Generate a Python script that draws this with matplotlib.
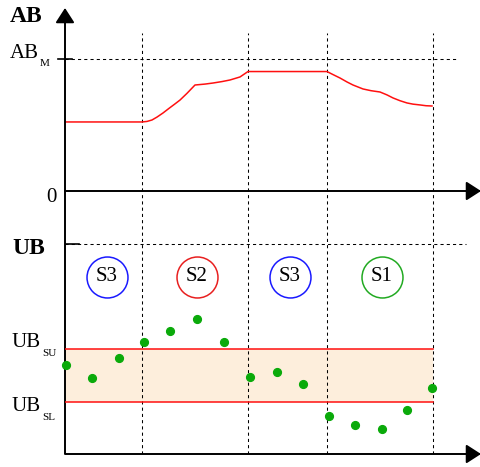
import matplotlib
matplotlib.use('Agg')
import matplotlib.pyplot as plt

plt.rcParams['font.family'] = ['Liberation Serif', 'DejaVu Serif']

# 数据 (x 为时间轴, 相对于纵轴的位置)
stage_edges = [77, 183, 262, 368]          # 虚线分隔
ab_x = [0, 77, 82, 87, 92, 98, 104, 110, 115, 122, 130, 140, 148, 157, 165, 175, 183,
        262, 268, 275, 282, 288, 298, 306, 315, 322, 328, 335, 342, 348, 355, 361, 367]
ab_y = [0.523, 0.523, 0.527, 0.538, 0.56, 0.591, 0.626, 0.66, 0.689, 0.74, 0.803,
        0.81, 0.818, 0.829, 0.841, 0.864, 0.905,
        0.905, 0.882, 0.856, 0.826, 0.803, 0.773, 0.76, 0.75, 0.728, 0.705, 0.684,
        0.667, 0.658, 0.652, 0.646, 0.644]
ab_max = 1.0

ub_x = [1, 27, 54, 79, 105, 132, 159, 185, 212, 238, 264, 290, 317, 342, 367]
ub_y = [4.22, 3.62, 4.57, 5.32, 5.84, 6.41, 5.33, 3.65, 3.89, 3.32, 1.83, 1.38, 1.21, 2.08, 3.14]
ub_top = 10
ub_su = 5.0
ub_sl = 2.5

states = ['S3', 'S2', 'S3', 'S1']
state_x = [42, 132, 225, 317]
state_colors = ['#1a1aff', '#e82020', '#1a1aff', '#22aa22']
state_y = 8.43

W, H = 481, 467
fig = plt.figure(figsize=(W / 100, H / 100), dpi=100)

def fx(x):
    return x / W

def fy(y):
    return 1 - y / H

# 上图 AB
ax1 = fig.add_axes([fx(65), fy(191), 416 / W, 183 / H])
ax1.set_xlim(0, 416)
ax1.set_ylim(0, 183 / 132)
# 下图 UB
ax2 = fig.add_axes([fx(65), fy(454), 416 / W, 263 / H])
ax2.set_xlim(0, 416)
ax2.set_ylim(0, 263 / 21)

for ax in (ax1, ax2):
    for s in ax.spines.values():
        s.set_visible(False)
    ax.set_xticks([])
    ax.set_yticks([])
    ax.patch.set_alpha(0)

dot = dict(color='k', lw=0.75, linestyle=(0, (3, 3)))
arrow = dict(arrowstyle='-|>,head_length=0.45,head_width=0.29', mutation_scale=20,
             lw=1.4, color='k', shrinkA=0, shrinkB=0)

# 坐标轴
ax1.annotate('', xy=(0, 1), xytext=(0, 0), xycoords='axes fraction', arrowprops=arrow)
ax1.annotate('', xy=(1, 0), xytext=(0, 0), xycoords='axes fraction', arrowprops=arrow)
ax2.annotate('', xy=(1, 0), xytext=(0, 0), xycoords='axes fraction', arrowprops=arrow)
ax2.plot([0, 0], [0, 263 / 21], color='k', lw=1.4, clip_on=False, solid_capstyle='butt')

# 虚线
for xe in stage_edges:
    ax1.plot([xe, xe], [0, 158 / 132], **dot)
    ax2.plot([xe, xe], [0, 263 / 21], **dot)
ax1.plot([0, 393], [ab_max, ab_max], **dot)
ax1.plot([-7, 7], [ab_max, ab_max], color='k', lw=1.2, clip_on=False)
ax2.plot([0, 401], [ub_top, ub_top], **dot)
ax2.plot([0, 14], [ub_top, ub_top], color='k', lw=1.2)

# AB 曲线
ax1.plot(ab_x, ab_y, color='#ff1010', lw=1.1)

# UB 范围
ax2.fill_between([0, stage_edges[-1]], ub_sl, ub_su, color='#fdeedc', lw=0)
ax2.plot([0, stage_edges[-1]], [ub_su, ub_su], color='#ff1010', lw=1.1)
ax2.plot([0, stage_edges[-1]], [ub_sl, ub_sl], color='#ff1010', lw=1.1)
ax2.plot(ub_x, ub_y, 'o', color='#0aaa0a', ms=5.6, clip_on=False, zorder=5)

# 状态圆圈
for s, x, c in zip(states, state_x, state_colors):
    ax2.plot(x, state_y, 'o', ms=29.5, mfc='none', mec=c, mew=1.1)
    ax2.text(x, state_y, s, ha='center', va='center', fontsize=15)

# 文字标签
fig.text(fx(10), fy(22), 'AB', fontsize=17, fontweight='bold', va='baseline')
fig.text(fx(10), fy(58), 'AB', fontsize=15, va='baseline')
fig.text(fx(40), fy(66), 'M', fontsize=8, va='baseline')
fig.text(fx(57), fy(202), '0', fontsize=15, ha='right', va='baseline')
fig.text(fx(12), fy(254), 'UB', fontsize=17, fontweight='bold', va='baseline')
fig.text(fx(12), fy(347), 'UB', fontsize=15, va='baseline')
fig.text(fx(42), fy(356), 'SU', fontsize=8, va='baseline')
fig.text(fx(12), fy(411), 'UB', fontsize=15, va='baseline')
fig.text(fx(42), fy(420), 'SL', fontsize=8, va='baseline')

fig.savefig('out.png', dpi=100)
